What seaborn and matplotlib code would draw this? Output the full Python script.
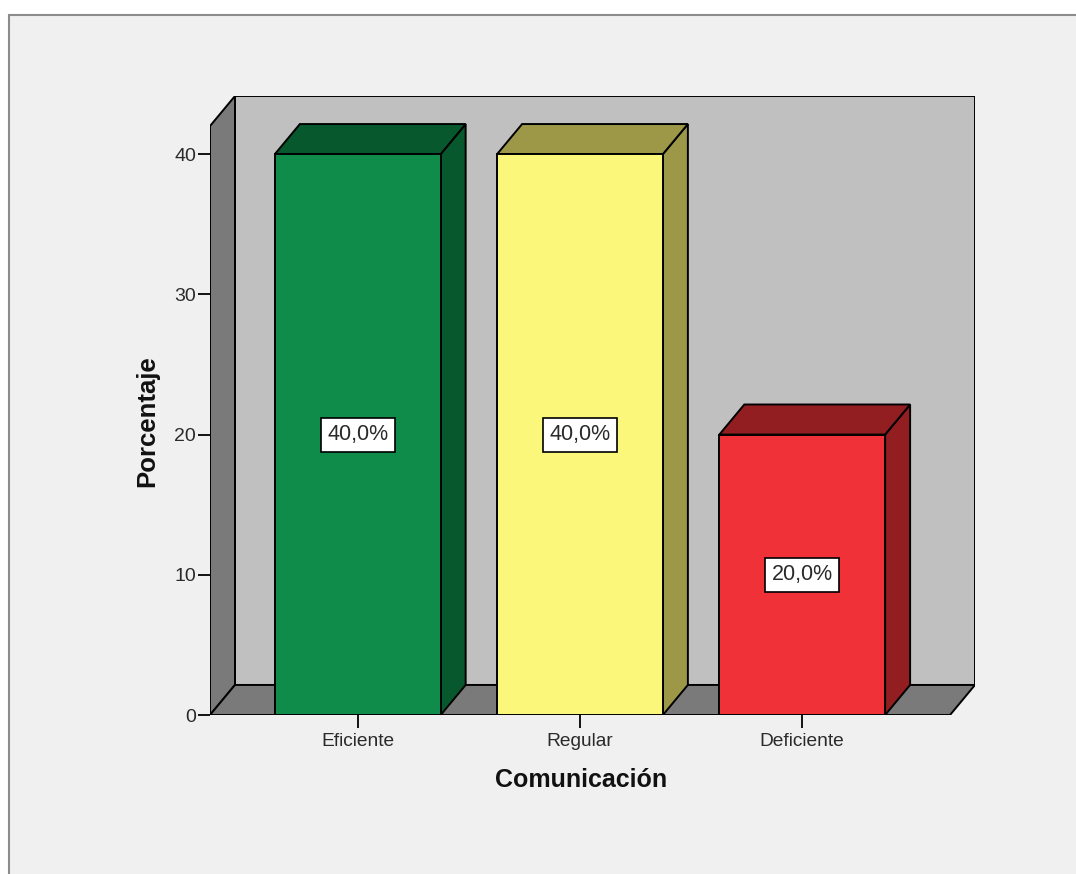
import numpy as np
import pandas as pd
import matplotlib
matplotlib.use("Agg")
import matplotlib.pyplot as plt
from matplotlib.patches import Polygon, Rectangle
import seaborn as sns

# Datos
categorias = ["Eficiente", "Regular", "Deficiente"]
porcentajes = [40.0, 40.0, 20.0]
etiquetas = ["40,0%", "40,0%", "20,0%"]

# Colores (frente / lado-techo)
color_frente = ["#108C4A", "#FAF77A", "#F03238"]
color_lado = ["#07592D", "#9C9848", "#921E22"]

sns.set_style("white")
plt.rcParams["font.family"] = ["Liberation Sans", "DejaVu Sans"]

fig = plt.figure(figsize=(10.76, 8.74), dpi=100)
fig.patch.set_facecolor("white")

# marco exterior gris claro
marco = Rectangle((9 / 1076, -0.02), 1.2, 1 - 15 / 874 + 0.02,
                  transform=fig.transFigure, facecolor="#F0F0F0",
                  edgecolor="#8C8C8C", linewidth=1.5, zorder=-5)
fig.add_artist(marco)

ax = fig.add_axes([210 / 1076, 1 - 715 / 874, 765 / 1076, 619 / 874])
ax.set_facecolor("none")

df = pd.DataFrame({"Comunicación": categorias, "Porcentaje": porcentajes})

lw = 1.4
sns.barplot(data=df, x="Comunicación", y="Porcentaje", hue="Comunicación",
            palette=color_frente, saturation=1, width=0.746, edgecolor="black",
            linewidth=lw, legend=False, ax=ax, zorder=3)

# geometria 3D
x0, x1 = -0.665, 2.665
ymax = 42
dx, dy = 0.1124, 2.143

# pared lateral, pared del fondo y piso
pared_lat = Polygon([(x0, 0), (x0 + dx, dy), (x0 + dx, ymax + dy), (x0, ymax)],
                    closed=True, facecolor="#7A7A7A", edgecolor="black", lw=lw, zorder=0.5)
fondo = Polygon([(x0 + dx, dy), (x1 + dx, dy), (x1 + dx, ymax + dy), (x0 + dx, ymax + dy)],
                closed=True, facecolor="#C0C0C0", edgecolor="black", lw=lw, zorder=0.4)
piso = Polygon([(x0, 0), (x1, 0), (x1 + dx, dy), (x0 + dx, dy)],
               closed=True, facecolor="#7A7A7A", edgecolor="black", lw=lw, zorder=0.6)
for p in (fondo, pared_lat, piso):
    ax.add_patch(p)

# caras laterales y superiores de cada barra
for i, barra in enumerate(list(ax.patches)[:len(categorias)]):
    bx, bw, bh = barra.get_x(), barra.get_width(), barra.get_height()
    lado = Polygon([(bx + bw, 0), (bx + bw + dx, dy), (bx + bw + dx, bh + dy), (bx + bw, bh)],
                   closed=True, facecolor=color_lado[i], edgecolor="black", lw=lw, zorder=2.5)
    techo = Polygon([(bx, bh), (bx + dx, bh + dy), (bx + bw + dx, bh + dy), (bx + bw, bh)],
                    closed=True, facecolor=color_lado[i], edgecolor="black", lw=lw, zorder=2.5)
    ax.add_patch(lado)
    ax.add_patch(techo)
    ax.text(bx + bw / 2, bh / 2, etiquetas[i], ha="center", va="center",
            fontsize=15.5, color="#2A2A2A", zorder=5,
            bbox=dict(boxstyle="square,pad=0.3", facecolor="white",
                      edgecolor="black", linewidth=1.2))

ax.set_xlim(x0, x1 + dx)
ax.set_ylim(0, ymax + dy)
ax.set_yticks([0, 10, 20, 30, 40])
for s in ax.spines.values():
    s.set_visible(False)

ax.tick_params(axis="y", direction="out", length=9, width=1.3, color="black",
               labelsize=14, pad=1, left=True, labelcolor="#2A2A2A")
ax.tick_params(axis="x", direction="out", length=9, width=1.3, color="black",
               labelsize=13.8, pad=4, bottom=True, labelcolor="#2A2A2A")

ax.set_xlabel("Comunicación", fontsize=18, fontweight="bold", va="center", color="#111111")
ax.xaxis.set_label_coords((581 - 210) / 765, (715 - 780) / 619)
ax.set_ylabel("Porcentaje", fontsize=18.5, fontweight="bold", va="center", color="#111111")
ax.yaxis.set_label_coords((147 - 210) / 765, (715 - 421) / 619)

fig.savefig("out.png", dpi=100)
